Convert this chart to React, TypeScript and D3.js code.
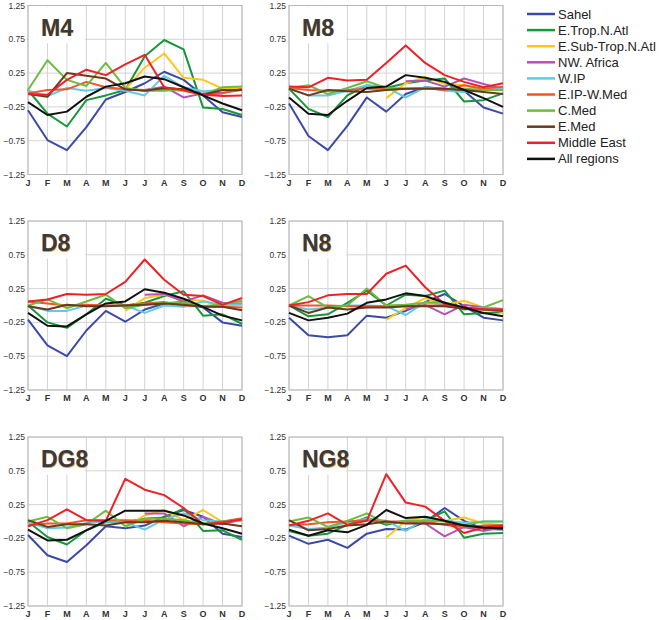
import * as d3 from 'd3';

const months = ['J', 'F', 'M', 'A', 'M', 'J', 'J', 'A', 'S', 'O', 'N', 'D'];
const yTicks = [1.25, 0.75, 0.25, -0.25, -0.75, -1.25];

const regions = [
  'Sahel',
  'E.Trop.N.Atl',
  'E.Sub-Trop.N.Atl',
  'NW. Africa',
  'W.IP',
  'E.IP-W.Med',
  'C.Med',
  'E.Med',
  'Middle East',
  'All regions',
];

const regionColors = [
  '#3c4aa6',
  '#17973b',
  '#ffc61a',
  '#b552b3',
  '#62c9e6',
  '#f2552c',
  '#6dbc3d',
  '#6a3a1d',
  '#ee2128',
  '#111111',
];

const _ = null;

// one row per region, same order as `regions`
const m4 = [
  [-0.3, -0.74, -0.89, -0.55, -0.14, -0.03, 0.1, 0.27, 0.15, -0.08, -0.33, -0.4],
  [0, -0.35, -0.54, -0.15, -0.08, 0, 0.5, 0.74, 0.6, -0.26, -0.28, -0.37],
  [_, _, _, _, _, 0.01, 0.33, 0.54, 0.18, 0.15, 0.02, 0.03],
  [_, _, _, _, _, _, 0.0, 0.05, -0.11, -0.05, -0.04, 0.0],
  [-0.01, -0.09, 0.03, -0.01, 0.03, -0.01, -0.08, 0.21, 0.04, -0.02, 0.0, 0.0],
  [-0.05, 0, 0.01, 0.12, 0.04, 0.01, 0, 0.01, -0.01, -0.07, -0.05, 0.02],
  [0, 0.44, 0.15, 0.06, 0.4, 0.03, -0.01, -0.01, 0.01, -0.07, 0.04, 0.05],
  [-0.06, -0.1, 0.25, 0.21, 0.17, 0.01, -0.01, 0.03, 0.01, -0.07, 0.0, 0.0],
  [-0.06, -0.07, 0.15, 0.3, 0.22, 0.38, 0.52, 0.04, 0, -0.07, -0.09, -0.08],
  [-0.18, -0.37, -0.32, -0.1, 0.05, 0.1, 0.2, 0.16, 0.04, -0.08, -0.2, -0.3],
];

const m8 = [
  [-0.2, -0.68, -0.89, -0.53, -0.11, -0.32, -0.06, 0.04, 0.02, -0.01, -0.26, -0.35],
  [0.02, -0.28, -0.4, -0.08, 0.07, 0.03, 0.1, 0.14, 0.17, -0.17, -0.15, -0.05],
  [_, _, _, _, _, -0.12, 0.1, 0.19, 0.09, 0.07, 0.0, 0.02],
  [_, _, _, _, _, _, 0.13, 0.14, 0.05, 0.17, 0.09, 0.02],
  [0.02, -0.08, -0.08, -0.01, 0.07, 0.04, -0.11, 0.04, -0.01, -0.03, 0.0, 0.02],
  [0.03, 0, -0.01, 0, 0.02, 0.02, 0.02, 0.03, 0, 0.07, 0.02, 0.05],
  [0.03, 0.07, -0.06, 0.03, 0.13, 0.03, 0.02, 0.03, 0.02, 0.02, 0.0, 0.0],
  [0.02, -0.08, 0, -0.02, -0.03, 0, 0.02, 0.02, 0.02, 0, -0.03, -0.06],
  [0.05, 0.04, 0.18, 0.14, 0.15, 0.4, 0.66, 0.4, 0.22, 0.12, 0.04, 0.1],
  [-0.11, -0.35, -0.37, -0.16, 0.03, 0.05, 0.22, 0.18, 0.12, 0.0, -0.12, -0.25],
];

const d8 = [
  [-0.21, -0.59, -0.75, -0.37, -0.08, -0.24, -0.06, 0.03, 0.05, -0.03, -0.25, -0.3],
  [0, -0.25, -0.33, -0.13, 0.1, 0, 0.04, 0.14, 0.21, -0.15, -0.13, -0.27],
  [_, _, _, _, _, -0.08, 0.11, 0.16, 0.09, 0.07, -0.01, 0.01],
  [_, _, _, _, _, _, 0.16, 0.17, 0.06, 0.15, 0.04, 0.03],
  [0, -0.08, -0.08, 0, 0, 0, -0.11, 0, -0.02, 0.06, 0.01, 0.02],
  [0.06, 0.03, 0, 0.01, 0, 0, 0.03, 0.05, 0, -0.01, -0.02, -0.03],
  [0, 0.09, -0.04, 0.06, 0.16, -0.04, 0.01, 0.04, 0.04, -0.01, 0.02, 0.07],
  [-0.01, -0.06, 0.01, -0.01, -0.01, 0, 0.01, 0.03, 0.01, -0.02, -0.02, -0.07],
  [0.06, 0.09, 0.17, 0.16, 0.17, 0.35, 0.68, 0.38, 0.16, 0.14, 0.01, 0.11],
  [-0.11, -0.3, -0.31, -0.13, 0.03, 0.06, 0.24, 0.19, 0.1, -0.02, -0.15, -0.22],
];

const n8 = [
  [-0.18, -0.44, -0.47, -0.44, -0.15, -0.18, -0.08, 0.05, 0.17, -0.01, -0.18, -0.22],
  [0, -0.16, -0.13, 0.04, 0.22, 0, 0.16, 0.14, 0.22, -0.13, -0.11, -0.1],
  [_, _, _, _, _, -0.21, -0.04, 0.11, 0.01, 0.07, -0.03, -0.1],
  [_, _, _, _, _, _, -0.06, 0.01, -0.13, 0.01, -0.03, -0.05],
  [0, -0.06, -0.03, 0, 0, -0.01, -0.14, 0.05, 0.01, -0.05, -0.03, -0.06],
  [0, 0, 0, -0.01, -0.01, -0.01, -0.01, 0, 0, -0.03, -0.06, -0.06],
  [0, 0.14, -0.03, 0, 0.25, 0, 0.01, 0.04, 0.05, -0.06, -0.03, 0.08],
  [0, -0.11, -0.03, -0.06, -0.03, -0.03, -0.01, -0.01, -0.01, -0.05, -0.06, -0.08],
  [0, 0.05, 0.15, 0.17, 0.17, 0.47, 0.59, 0.27, 0.02, -0.03, -0.06, -0.06],
  [-0.11, -0.22, -0.18, -0.12, 0.04, 0.09, 0.18, 0.14, 0.04, -0.03, -0.11, -0.16],
];

const dg8 = [
  [-0.2, -0.5, -0.6, -0.35, -0.07, -0.1, -0.06, 0.07, 0.17, 0.07, -0.18, -0.23],
  [0, -0.23, -0.34, -0.13, -0.01, -0.01, 0.04, 0.06, 0.19, -0.14, -0.13, -0.27],
  [_, _, _, _, _, -0.08, 0.09, 0.17, 0.02, 0.17, -0.01, 0.02],
  [_, _, _, _, _, _, 0.12, 0.12, -0.07, 0.07, -0.04, 0.03],
  [-0.01, -0.1, -0.09, -0.02, 0, -0.01, -0.12, 0.03, 0.12, 0.02, 0, 0.02],
  [-0.06, -0.03, -0.03, 0.02, 0.02, 0.02, 0.01, -0.01, -0.03, -0.04, 0, 0.05],
  [0, 0.07, -0.1, -0.04, 0.16, -0.07, 0.04, 0.04, 0.02, -0.03, 0, 0.02],
  [0.02, -0.08, -0.04, -0.04, -0.06, -0.01, -0.01, 0.01, -0.01, -0.04, -0.03, -0.07],
  [-0.07, 0.02, 0.18, 0.02, 0.01, 0.63, 0.47, 0.39, 0.2, -0.04, -0.01, 0.03],
  [-0.12, -0.28, -0.27, -0.13, 0.01, 0.16, 0.16, 0.16, 0.09, -0.03, -0.1, -0.18],
];

const ng8 = [
  [-0.21, -0.33, -0.27, -0.39, -0.18, -0.11, -0.12, -0.01, 0.2, 0.01, -0.11, -0.12],
  [-0.14, -0.21, -0.18, -0.05, 0.06, -0.05, 0.01, 0.01, 0.15, -0.24, -0.18, -0.17],
  [_, _, _, _, _, -0.24, 0.01, 0.07, 0.01, 0.06, -0.03, -0.05],
  [_, _, _, _, _, _, 0, -0.03, -0.22, -0.08, -0.14, -0.08],
  [-0.06, -0.11, -0.09, -0.01, 0.04, 0.01, -0.14, 0.04, 0.01, -0.02, 0, 0],
  [-0.05, -0.04, -0.01, 0, 0.02, 0, 0, 0, -0.05, -0.09, -0.06, -0.05],
  [0, 0.06, -0.08, 0.01, 0.12, -0.03, 0.01, 0.01, 0, -0.05, 0, 0],
  [0.02, -0.13, -0.11, -0.06, -0.04, 0, -0.03, -0.03, -0.04, -0.05, -0.1, -0.08],
  [-0.06, 0.01, 0.12, -0.05, 0.01, 0.7, 0.28, 0.22, 0.01, -0.17, -0.09, -0.06],
  [-0.12, -0.21, -0.13, -0.16, -0.05, 0.17, 0.05, 0.07, 0.01, -0.06, -0.09, -0.1],
];

const panelTitles = ['M4', 'M8', 'D8', 'N8', 'DG8', 'NG8'];
const panelData = [m4, m8, d8, n8, dg8, ng8];

// layout
const W = 661;
const H = 620;
const colX = [28, 289];
const rowY = [5.5, 221, 437];
const plotW = 214;
const plotH = 169;
const FONT = "Arial, 'Liberation Sans', Helvetica, sans-serif";

const fmt = (v: number) => (v < 0 ? '\u2212' : '') + Math.abs(v).toFixed(2);

function Panel({title, data, x0, y0}: {title: string; data: (number | null)[][]; x0: number; y0: number}) {
  const x = d3.scalePoint<number>().domain(d3.range(12)).range([x0, x0 + plotW]);
  const y = d3.scaleLinear().domain([-1.25, 1.25]).range([y0 + plotH, y0]);
  const line = d3
    .line<number | null>()
    .defined((d) => d != null)
    .x((_d, i) => x(i)!)
    .y((d) => y(d as number));

  return (
    <g>
      {months.map((m, i) => (
        <line key={'v' + i} x1={x(i)} x2={x(i)} y1={y0} y2={y0 + plotH} stroke="#d4d4d4" strokeWidth={1} />
      ))}
      {yTicks.map((t) => (
        <line key={'h' + t} x1={x0} x2={x0 + plotW} y1={y(t)} y2={y(t)} stroke="#d4d4d4" strokeWidth={1} />
      ))}
      <rect x={x0} y={y0} width={plotW} height={plotH} fill="none" stroke="#b8b8b8" strokeWidth={1} />
      {/* white box behind the panel title */}
      <rect x={x0 + 1} y={y0 + 1} width={56} height={y(0.75) - y0 + 3} fill="#fff" />
      <text x={x0 + 13.6} y={y0 + 30.6} fontFamily={FONT} fontWeight="bold" fontSize={23} fill="#e59a4a">
        {title}
      </text>
      <text x={x0 + 13} y={y0 + 30} fontFamily={FONT} fontWeight="bold" fontSize={23} fill="#3a3a3a">
        {title}
      </text>
      {yTicks.map((t) => (
        <text
          key={'yl' + t}
          x={x0 - 3}
          y={y(t) + 3}
          textAnchor="end"
          fontFamily={FONT}
          fontSize={8.5}
          fill="#333"
        >
          {fmt(t)}
        </text>
      ))}
      {months.map((m, i) => (
        <text
          key={'xl' + i}
          x={x(i)}
          y={y0 + plotH + 11}
          textAnchor="middle"
          fontFamily={FONT}
          fontWeight="bold"
          fontSize={9}
          fill="#333"
        >
          {m}
        </text>
      ))}
      {data.map((series, k) => (
        <path
          key={'s' + k}
          d={line(series) ?? ''}
          fill="none"
          stroke={regionColors[k]}
          strokeWidth={2}
          strokeLinejoin="round"
        />
      ))}
    </g>
  );
}

export default function App() {
  return (
    <svg
      width={W}
      height={H}
      viewBox={`0 0 ${W} ${H}`}
      style={{position: 'absolute', left: 0, top: 0, background: '#fff'}}
    >
      <rect width={W} height={H} fill="#fff" />
      {panelTitles.map((t, i) => (
        <Panel key={t} title={t} data={panelData[i]} x0={colX[i % 2]} y0={rowY[Math.floor(i / 2)]} />
      ))}
      <g>
        {regions.map((r, i) => (
          <g key={r} transform={`translate(0,${14 + i * 16.1})`}>
            <line x1={527} x2={555} y1={0} y2={0} stroke={regionColors[i]} strokeWidth={2.5} />
            <text x={558} y={4.5} fontFamily={FONT} fontSize={13} fill="#222">
              {r}
            </text>
          </g>
        ))}
      </g>
    </svg>
  );
}
